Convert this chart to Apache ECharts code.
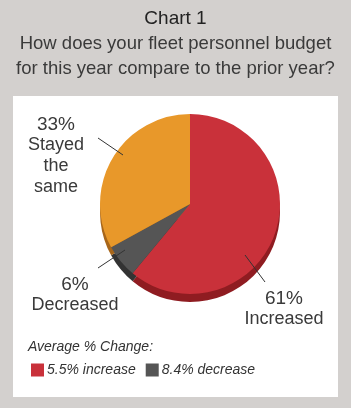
<!DOCTYPE html>
<html>
<head>
<meta charset="utf-8">
<style>
  html, body { margin: 0; padding: 0; background: #d3d0ce; }
  #main { width: 351px; height: 408px; }
</style>
<script src="https://cdn.jsdelivr.net/npm/echarts@6/dist/echarts.min.js"></script>
</head>
<body>
<div id="main"></div>
<script>
// data
var sliceNames = ['Increased', 'Decreased', 'Stayed\nthe\nsame'];
var sliceValues = [61, 6, 33];
var legendNames = ['Increased', 'Decreased'];
var legendTexts = ['5.5% increase', '8.4% decrease'];

var topColors = ['#c9313a', '#555555', '#e8982a'];
var sideColors = ['#8f1c21', '#333333', '#a8661a'];
// where each label block sits (top centre)
var labelPos = [[284, 288], [75, 274], [56, 114]];

var chart = echarts.init(document.getElementById('main'));

var pieData = sliceNames.map(function (n, i) {
  return { name: n, value: sliceValues[i], itemStyle: { color: topColors[i] } };
});
var sideData = sliceNames.map(function (n, i) {
  return { name: n + ' side', value: sliceValues[i], itemStyle: { color: sideColors[i] } };
});

var font = '"Liberation Sans", Arial, sans-serif';

chart.setOption({
  backgroundColor: '#d3d0ce',
  animation: false,
  title: {
    text: 'Chart 1',
    subtext: 'How does your fleet personnel budget\nfor this year compare to the prior year?',
    left: 'center',
    top: 4,
    itemGap: 3,
    textStyle: { fontFamily: font, fontSize: 19, fontWeight: 'normal', color: '#222' },
    subtextStyle: { fontFamily: font, fontSize: 18.5, color: '#3a3a3a', lineHeight: 25 }
  },
  legend: {
    data: legendNames,
    left: 26,
    top: 358,
    icon: 'rect',
    itemWidth: 13,
    itemHeight: 13,
    itemGap: 10,
    selectedMode: false,
    formatter: function (name) {
      return legendTexts[legendNames.indexOf(name)];
    },
    textStyle: { fontFamily: font, fontSize: 14, fontStyle: 'italic', color: '#333', padding: [0, 0, 0, -2] }
  },
  graphic: [
    { type: 'rect', z: 0, shape: { x: 13, y: 96, width: 325, height: 301 }, style: { fill: '#ffffff' } },
    { type: 'text', z: 1, left: 28, top: 340,
      style: { text: 'Average % Change:', font: 'italic 14px ' + font, fill: '#333' } },
    { type: 'line', z: 10, shape: { x1: 98, y1: 138, x2: 123, y2: 155 }, style: { stroke: '#333', lineWidth: 1 } },
    { type: 'line', z: 10, shape: { x1: 98, y1: 268, x2: 125, y2: 250 }, style: { stroke: '#333', lineWidth: 1 } },
    { type: 'line', z: 10, shape: { x1: 245, y1: 255, x2: 265, y2: 282 }, style: { stroke: '#333', lineWidth: 1 } }
  ],
  series: [
    {
      type: 'pie',
      silent: true,
      z: 2,
      center: [190, 212],
      radius: 90,
      startAngle: 90,
      label: { show: false },
      labelLine: { show: false },
      data: sideData
    },
    {
      type: 'pie',
      z: 3,
      center: [190, 204],
      radius: 90,
      startAngle: 90,
      itemStyle: { borderWidth: 0 },
      label: {
        show: true,
        overflow: 'none',
        formatter: '{p|{d}%}\n{n|{b}}',
        rich: {
          p: { fontFamily: font, fontSize: 19, color: '#3a3a3a', lineHeight: 21, align: 'center' },
          n: { fontFamily: font, fontSize: 18, color: '#3a3a3a', lineHeight: 21, align: 'center' }
        }
      },
      labelLine: { show: false },
      labelLayout: function (params) {
        var p = labelPos[params.dataIndex];
        return { x: p[0], y: p[1], align: 'center', verticalAlign: 'top' };
      },
      data: pieData
    }
  ]
});
</script>
</body>
</html>
